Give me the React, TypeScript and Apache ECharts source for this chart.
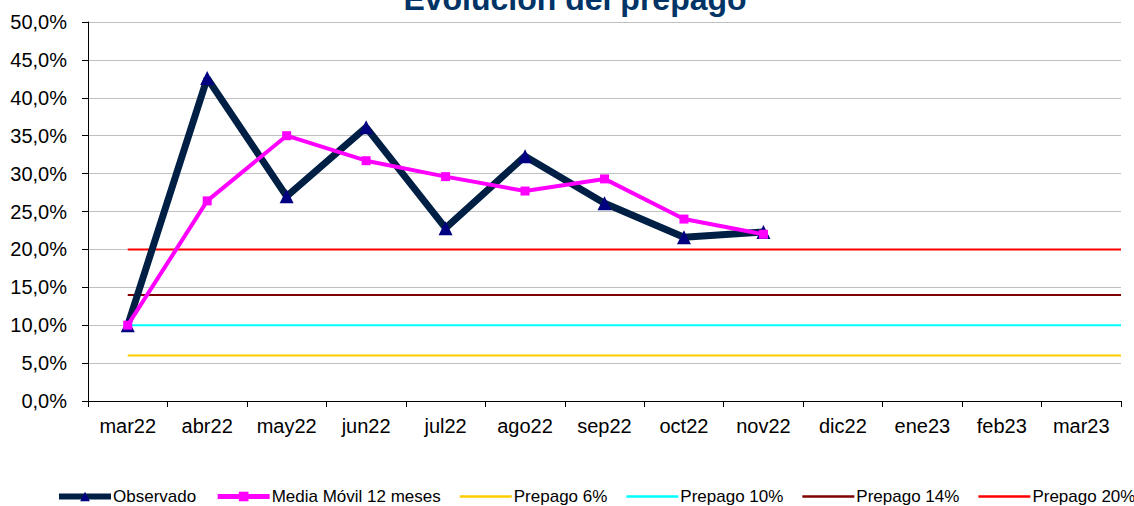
import React, { useEffect, useRef } from "react";
import * as echarts from "echarts";

const categories = ["mar22", "abr22", "may22", "jun22", "jul22", "ago22", "sep22", "oct22", "nov22", "dic22", "ene23", "feb23", "mar23"];
const observado = [10.0, 42.6, 27.0, 36.1, 22.8, 32.3, 26.1, 21.6, 22.3];
const mediaMovil = [10.0, 26.4, 35.0, 31.7, 29.6, 27.7, 29.3, 24.0, 22.0];
const refLevels = [6, 10, 14, 20];
const refNames = ["Prepago 6%", "Prepago 10%", "Prepago 14%", "Prepago 20%"];
const refColors = ["#ffcc00", "#00ffff", "#800000", "#ff0000"];
const refStart = 0.5;
const refEnd = 13;

export default function App() {
  const ref = useRef<HTMLDivElement>(null);
  useEffect(() => {
    if (!ref.current) return;
    const chart = echarts.init(ref.current, undefined, { renderer: "svg" });
    const font = "Liberation Sans, Arial, sans-serif";
    const barIcon = "path://M0,0 L60,0 L60,3 L0,3 Z";
    chart.setOption({
      animation: false,
      backgroundColor: "#ffffff",
      title: {
        text: "Evolución del prepago",
        left: 570,
        textAlign: "center",
        top: -22,
        textStyle: { fontFamily: font, fontSize: 32, fontWeight: "bold", color: "#003366" },
      },
      grid: { left: 88, right: 13, top: 22, bottom: 105, containLabel: false },
      legend: {
        bottom: 1,
        left: 56,
        width: 1078,
        padding: 0,
        itemWidth: 52,
        itemHeight: 12,
        itemGap: 19,
        textStyle: { fontFamily: font, fontSize: 17, color: "#000", padding: [0, 0, 0, -3] },
        data: [
          { name: "Observado", lineStyle: { width: 6 } },
          { name: "Media Móvil 12 meses", lineStyle: { width: 5 } },
          ...refNames.map((n) => ({ name: n, icon: barIcon })),
        ],
      },
      xAxis: [
        {
          type: "category",
          data: categories,
          boundaryGap: true,
          axisLine: { lineStyle: { color: "#000", width: 1 } },
          axisTick: { show: true, length: 6, lineStyle: { color: "#000" } },
          axisLabel: { fontFamily: font, fontSize: 20, color: "#000", margin: 15 },
          splitLine: { show: false },
        },
        {
          type: "value",
          min: 0,
          max: 13,
          show: false,
        },
      ],
      yAxis: {
        type: "value",
        min: 0,
        max: 50,
        interval: 5,
        axisLine: { show: true, lineStyle: { color: "#000", width: 1 } },
        axisTick: { show: true, length: 6, lineStyle: { color: "#000" } },
        axisLabel: {
          fontFamily: font,
          fontSize: 20,
          color: "#000",
          margin: 21,
          formatter: (v: number) => v.toFixed(1).replace(".", ",") + "%",
        },
        splitLine: { show: true, lineStyle: { color: "#c0c0c0", width: 1 } },
      },
      series: [
        ...refLevels.map((lvl, i) => ({
          name: refNames[i],
          type: "line",
          xAxisIndex: 1,
          data: [[refStart, lvl], [refEnd, lvl]],
          symbol: "none",
          lineStyle: { color: refColors[i], width: 2 },
          itemStyle: { color: refColors[i] },
          z: 1,
        })),
        {
          name: "Observado",
          type: "line",
          data: observado,
          symbol: "triangle",
          symbolSize: 14,
          lineStyle: { color: "#001f45", width: 7 },
          itemStyle: { color: "#000080" },
          z: 3,
        },
        {
          name: "Media Móvil 12 meses",
          type: "line",
          data: mediaMovil,
          symbol: "rect",
          symbolSize: 9,
          lineStyle: { color: "#ff00ff", width: 4 },
          itemStyle: { color: "#ff00ff" },
          z: 4,
        },
      ],
    });
    return () => chart.dispose();
  }, []);
  return <div ref={ref} style={{ position: "fixed", left: 0, top: 0, width: 1134, height: 506 }} />;
}
